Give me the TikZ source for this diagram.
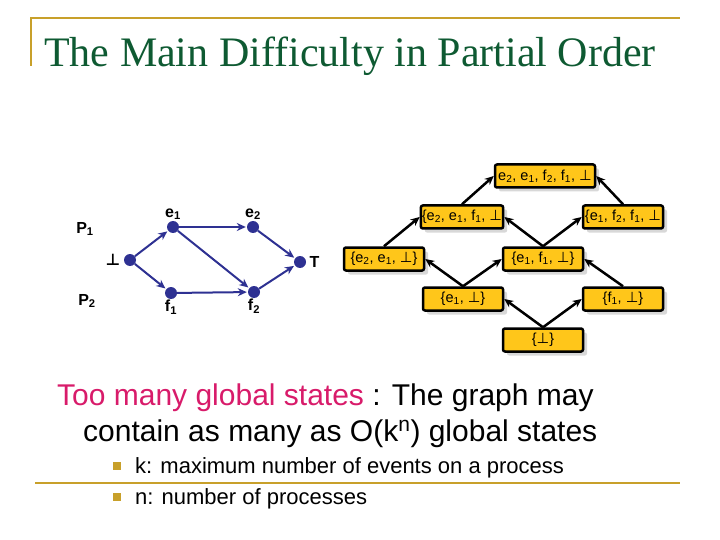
\documentclass[tikz,border=0pt]{standalone}
\usepackage{fontspec}
\setmainfont{Liberation Serif}
\newfontfamily\ssf{Liberation Sans}
\newfontfamily\djv{DejaVu Sans}
\usetikzlibrary{arrows.meta,shadows}
\definecolor{gold}{HTML}{C8A02A}
\definecolor{ttl}{HTML}{0E5A32}
\definecolor{pinkred}{HTML}{D81B6A}
\definecolor{navy}{HTML}{2E3192}
\definecolor{boxy}{HTML}{FFC61A}
\newcommand{\bt}{{\djv ⊥}}
\newcommand{\sbs}[1]{\textsubscript{#1}}
\begin{document}
\begin{tikzpicture}[x=1pt,y=-1pt,
  ev/.style={circle,fill=navy,inner sep=0pt,minimum size=12pt},
  garr/.style={navy,line width=2pt,-{Stealth[length=9pt,width=8pt]},shorten >=1pt},
  st/.style={draw=black,line width=2.5pt,fill=boxy,rounded corners=2pt,minimum width=80pt,minimum height=23pt,inner sep=1pt,font=\ssf\fontsize{14.5}{14.5}\selectfont,drop shadow={shadow xshift=4pt,shadow yshift=-4pt,fill=gray!60}},
  sarr/.style={black,line width=2.5pt,-{Stealth[length=9pt,width=8pt]}},
  lab/.style={font=\ssf\fontsize{16}{16}\selectfont\bfseries}]
\useasboundingbox (0,0) rectangle (720,540);
\draw[gold,line width=2.5pt] (30,18) -- (680,18);
\draw[gold,line width=2.5pt] (31,18) -- (31,66);
\draw[gold,line width=2.5pt] (35,483) -- (680,483);
\node[anchor=base west,text=ttl,font=\fontsize{42}{42}\selectfont,inner sep=0pt] (title) at (44,67) {The Main Difficulty in Partial Order};
\node[ev] (b) at (130,260) {};
\node[ev] (e1) at (173,227) {};
\node[ev] (e2) at (253,227) {};
\node[ev] (f1) at (171,293) {};
\node[ev] (f2) at (254,292) {};
\node[ev] (T) at (300,262) {};
\node[lab,anchor=east] (bl) at (b.west) {\bt};
\node[lab,anchor=west] (Tl) at (T.east) {T};
\node[lab,anchor=south,inner sep=1pt] (e1l) at (e1.north) {e\sbs{1}};
\node[lab,anchor=south,inner sep=1pt] (e2l) at (e2.north) {e\sbs{2}};
\node[lab,anchor=north,inner sep=1pt] (f1l) at (f1.south) {f\sbs{1}};
\node[lab,anchor=north,inner sep=1pt] (f2l) at (f2.south) {f\sbs{2}};
\node[lab] (P1) at (85,229) {P\sbs{1}};
\node[lab] (P2) at (87,301) {P\sbs{2}};
\draw[garr] (b) -- (e1);
\draw[garr] (b) -- (f1);
\draw[garr] (e1) -- (e2);
\draw[garr] (e1) -- (f2);
\draw[garr] (f1) -- (f2);
\draw[garr] (e2) -- (T);
\draw[garr] (f2) -- (T);
\node[st,minimum width=100pt] (top) at (545,176) {e\sbs{2}, e\sbs{1}, f\sbs{2}, f\sbs{1}, \bt};
\node[st] (a1) at (462,217) {\{e\sbs{2}, e\sbs{1}, f\sbs{1}, \bt};
\node[st] (a2) at (623,217) {\{e\sbs{1}, f\sbs{2}, f\sbs{1}, \bt};
\node[st] (b1) at (384,259) {\{e\sbs{2}, e\sbs{1}, \bt\}};
\node[st] (b2) at (543,259) {\{e\sbs{1}, f\sbs{1}, \bt\}};
\node[st] (c1) at (463,299) {\{e\sbs{1}, \bt\}};
\node[st] (c2) at (623,299) {\{f\sbs{1}, \bt\}};
\node[st] (d) at (543,340) {\{\bt\}};
\draw[sarr] (d.north) -- (c1.east);
\draw[sarr] (d.north) -- (c2.west);
\draw[sarr] (c1.north) -- (b1.east);
\draw[sarr] (c1.north) -- (b2.west);
\draw[sarr] (c2.north) -- (b2.east);
\draw[sarr] (b1.north) -- (a1.west);
\draw[sarr] (b2.north) -- (a1.east);
\draw[sarr] (b2.north) -- (a2.west);
\draw[sarr] (a1.north) -- (top.west);
\draw[sarr] (a2.north) -- (top.east);
\node[anchor=base west,inner sep=0pt,font=\ssf\fontsize{30}{30}\selectfont] (t1) at (57,405) {\textcolor{pinkred}{Too many global states} : The graph may};
\node[anchor=base west,inner sep=0pt,font=\ssf\fontsize{30}{30}\selectfont] (t2) at (83,441) {contain as many as O(k\textsuperscript{n}) global states};
\node[fill=gold,minimum size=8pt,inner sep=0pt] (bu1) at (117,466) {};
\node[fill=gold,minimum size=8pt,inner sep=0pt] (bu2) at (117,497) {};
\node[anchor=base west,inner sep=0pt,font=\ssf\fontsize{22}{22}\selectfont] (l1) at (135,473) {k: maximum number of events on a process};
\node[anchor=base west,inner sep=0pt,font=\ssf\fontsize{22}{22}\selectfont] (l2) at (135,504) {n: number of processes};
\end{tikzpicture}
\end{document}
